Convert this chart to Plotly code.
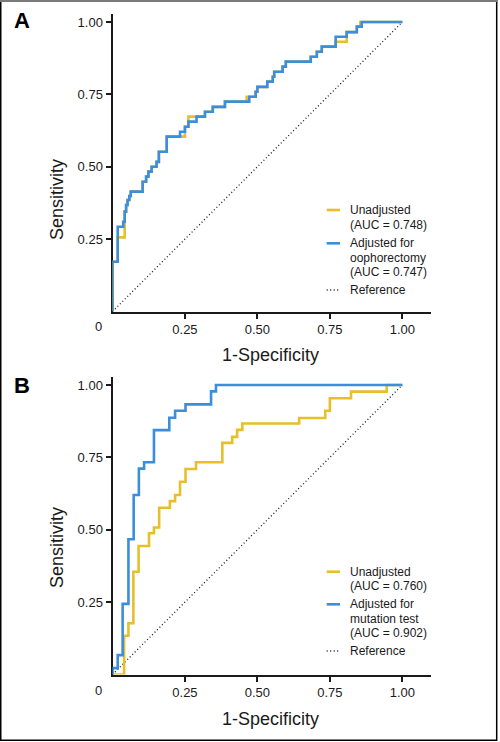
import plotly.graph_objects as go

# ---------------- data ----------------
# Panel A: oophorectomy adjustment
a_unadj_fpr = [0, 0, 0.018, 0.042, 0.047, 0.052, 0.058, 0.063, 0.104, 0.116, 0.124, 0.135,
               0.152, 0.16, 0.187, 0.25, 0.262, 0.319, 0.346, 0.388, 0.463, 0.494, 0.50,
               0.534, 0.553, 0.558, 0.587, 0.598, 0.684, 0.705, 0.722, 0.77, 0.808, 0.843,
               0.855, 1.0]
a_unadj_tpr = [0, 0.172, 0.256, 0.345, 0.368, 0.385, 0.399, 0.414, 0.448, 0.466, 0.483, 0.50,
               0.517, 0.552, 0.604, 0.638, 0.673, 0.69, 0.707, 0.725, 0.742, 0.759, 0.776,
               0.794, 0.811, 0.828, 0.846, 0.863, 0.88, 0.897, 0.915, 0.932, 0.965, 0.984,
               1.0, 1.0]
a_adj_fpr = [0, 0, 0.018, 0.037, 0.042, 0.047, 0.052, 0.058, 0.063, 0.104, 0.116, 0.124,
             0.135, 0.152, 0.16, 0.187, 0.233, 0.25, 0.262, 0.29, 0.319, 0.346, 0.388, 0.472,
             0.494, 0.50, 0.534, 0.553, 0.558, 0.587, 0.598, 0.684, 0.705, 0.722, 0.77, 0.808,
             0.843, 0.86, 1.0]
a_adj_tpr = [0, 0.172, 0.293, 0.31, 0.345, 0.368, 0.385, 0.399, 0.414, 0.448, 0.466, 0.483,
             0.50, 0.517, 0.552, 0.604, 0.621, 0.638, 0.656, 0.673, 0.69, 0.707, 0.725, 0.742,
             0.759, 0.776, 0.794, 0.811, 0.828, 0.846, 0.863, 0.88, 0.897, 0.915, 0.949, 0.965,
             0.984, 1.0, 1.0]

# Panel B: mutation test adjustment
b_unadj_fpr = [0, 0.04, 0.055, 0.072, 0.09, 0.126, 0.143, 0.161, 0.198, 0.216, 0.233, 0.252,
               0.288, 0.379, 0.413, 0.43, 0.448, 0.644, 0.734, 0.75, 0.823, 0.946, 1.0]
b_unadj_tpr = [0, 0.134, 0.177, 0.355, 0.444, 0.488, 0.508, 0.576, 0.599, 0.62, 0.666, 0.71,
               0.733, 0.80, 0.821, 0.845, 0.867, 0.886, 0.911, 0.954, 0.977, 1.0, 1.0]
b_adj_fpr = [0, 0, 0.018, 0.035, 0.055, 0.073, 0.091, 0.109, 0.143, 0.196, 0.216, 0.252,
             0.34, 0.357, 1.0]
b_adj_tpr = [0, 0.022, 0.067, 0.244, 0.467, 0.62, 0.711, 0.733, 0.844, 0.887, 0.911, 0.933,
             0.978, 1.0, 1.0]

ref_line = [0, 1]

tick_vals = [0.25, 0.5, 0.75, 1.0]
tick_text = ["0.25", "0.50", "0.75", "1.00"]

legend_a = ["Unadjusted", "(AUC = 0.748)", "Adjusted for", "oophorectomy", "(AUC = 0.747)", "Reference"]
legend_b = ["Unadjusted", "(AUC = 0.760)", "Adjusted for", "mutation test", "(AUC = 0.902)", "Reference"]
panel_labels = ["A", "B"]

# ---------------- styling / layout ----------------
W, H = 500, 742
YELLOW = "#E6BF2B"
BLUE = "#3A8EDB"
INK = "#1a1a1a"
FONT = "Liberation Sans, Arial, Helvetica, sans-serif"


def px(x):
    return x / W


def py(y):
    return 1 - y / H


X0, X1 = 112.5, 431.3           # x-axis line in pixels (0 .. 1.1)
A_Y0, A_Y1 = 311.5, 13.9        # panel A y-axis (0 .. 1.028)
B_Y0, B_Y1 = 674.5, 376.9       # panel B y-axis

fig = go.Figure()

panels = [
    ("x", "y", a_unadj_fpr, a_unadj_tpr, a_adj_fpr, a_adj_tpr),
    ("x2", "y2", b_unadj_fpr, b_unadj_tpr, b_adj_fpr, b_adj_tpr),
]
for xa, ya, uf, ut, af, at in panels:
    fig.add_trace(go.Scatter(x=ref_line, y=ref_line, mode="lines", xaxis=xa, yaxis=ya,
                             line=dict(color=INK, width=1.3, dash="1px,2.5px"), showlegend=False))
    fig.add_trace(go.Scatter(x=uf, y=ut, mode="lines", line_shape="hv", xaxis=xa, yaxis=ya,
                             line=dict(color=YELLOW, width=2.6), showlegend=False))
    fig.add_trace(go.Scatter(x=af, y=at, mode="lines", line_shape="hv", xaxis=xa, yaxis=ya,
                             line=dict(color=BLUE, width=2.6), showlegend=False))

xaxis_common = dict(range=[0, 1.1], showgrid=False, zeroline=False, showline=True,
                    linecolor=INK, linewidth=2, ticks="outside", ticklen=5, tickwidth=1.5,
                    tickcolor=INK, tickvals=tick_vals, ticktext=tick_text,
                    tickfont=dict(family=FONT, size=13, color=INK), layer="below traces",
                    domain=[px(X0), px(X1)], fixedrange=True)
yaxis_common = dict(range=[0, 1.028], showgrid=False, zeroline=False, showline=True,
                    linecolor=INK, linewidth=2, ticks="outside", ticklen=5, tickwidth=1.5,
                    tickcolor=INK, tickvals=tick_vals, ticktext=tick_text,
                    tickfont=dict(family=FONT, size=13, color=INK), layer="below traces",
                    fixedrange=True)

fig.update_layout(
    width=W, height=H,
    margin=dict(l=0, r=0, t=0, b=0),
    paper_bgcolor="white", plot_bgcolor="white",
    showlegend=False,
    xaxis=dict(xaxis_common, anchor="y"),
    yaxis=dict(yaxis_common, anchor="x", domain=[py(A_Y0), py(A_Y1)]),
    xaxis2=dict(xaxis_common, anchor="y2"),
    yaxis2=dict(yaxis_common, anchor="x2", domain=[py(B_Y0), py(B_Y1)]),
)

annotations = []
shapes = []

# panel letters
for lab, yc in zip(panel_labels, [21, 385]):
    annotations.append(dict(text=f"<b>{lab}</b>", x=px(12), y=py(yc), xref="paper", yref="paper",
                            xanchor="left", yanchor="middle", showarrow=False,
                            font=dict(family=FONT, size=22, color="black")))

# origin "0" labels, axis titles
for y0, ytitle, xtitle in [(326.5, 200, 355), (690.5, 548, 719)]:
    annotations.append(dict(text="0", x=px(98.8), y=py(y0), xref="paper", yref="paper",
                            xanchor="center", yanchor="middle", showarrow=False,
                            font=dict(family=FONT, size=13, color=INK)))
    annotations.append(dict(text="Sensitivity", x=px(57), y=py(ytitle), xref="paper", yref="paper",
                            xanchor="center", yanchor="middle", textangle=-90, showarrow=False,
                            font=dict(family=FONT, size=18, color=INK)))
    annotations.append(dict(text="1-Specificity", x=px(270), y=py(xtitle), xref="paper", yref="paper",
                            xanchor="center", yanchor="middle", showarrow=False,
                            font=dict(family=FONT, size=18, color=INK)))

# legends
leg_text_y = {"A": [210, 225, 243.3, 257.7, 271.7, 290], "B": [571.7, 585.7, 604.3, 619, 633.3, 651]}
for lab, texts in zip(panel_labels, [legend_a, legend_b]):
    ys = leg_text_y[lab]
    for t, yy in zip(texts, ys):
        annotations.append(dict(text=t, x=px(347.5), y=py(yy), xref="paper", yref="paper",
                                xanchor="left", yanchor="middle", showarrow=False,
                                font=dict(family=FONT, size=12, color=INK)))
    for yy, col, dash, wd in [(ys[0], YELLOW, "solid", 2.6), (ys[2], BLUE, "solid", 2.6),
                              (ys[5], INK, "1px,2.5px", 1.3)]:
        shapes.append(dict(type="line", xref="paper", yref="paper", x0=px(326.7), x1=px(340),
                           y0=py(yy), y1=py(yy), line=dict(color=col, width=wd, dash=dash)))

# frame
shapes.append(dict(type="rect", xref="paper", yref="paper", x0=px(0.75), x1=px(496.7),
                   y0=py(740.3), y1=py(0.75), line=dict(color="black", width=1.5)))
shapes.append(dict(type="line", xref="paper", yref="paper", x0=0, x1=px(497.5),
                   y0=py(0.9), y1=py(0.9), line=dict(color="#7a7a7a", width=2)))

fig.update_layout(annotations=annotations, shapes=shapes)

fig.write_html("out.html", config={"displayModeBar": False},
               post_script="document.body.style.margin='0';document.body.style.overflow='hidden';")
